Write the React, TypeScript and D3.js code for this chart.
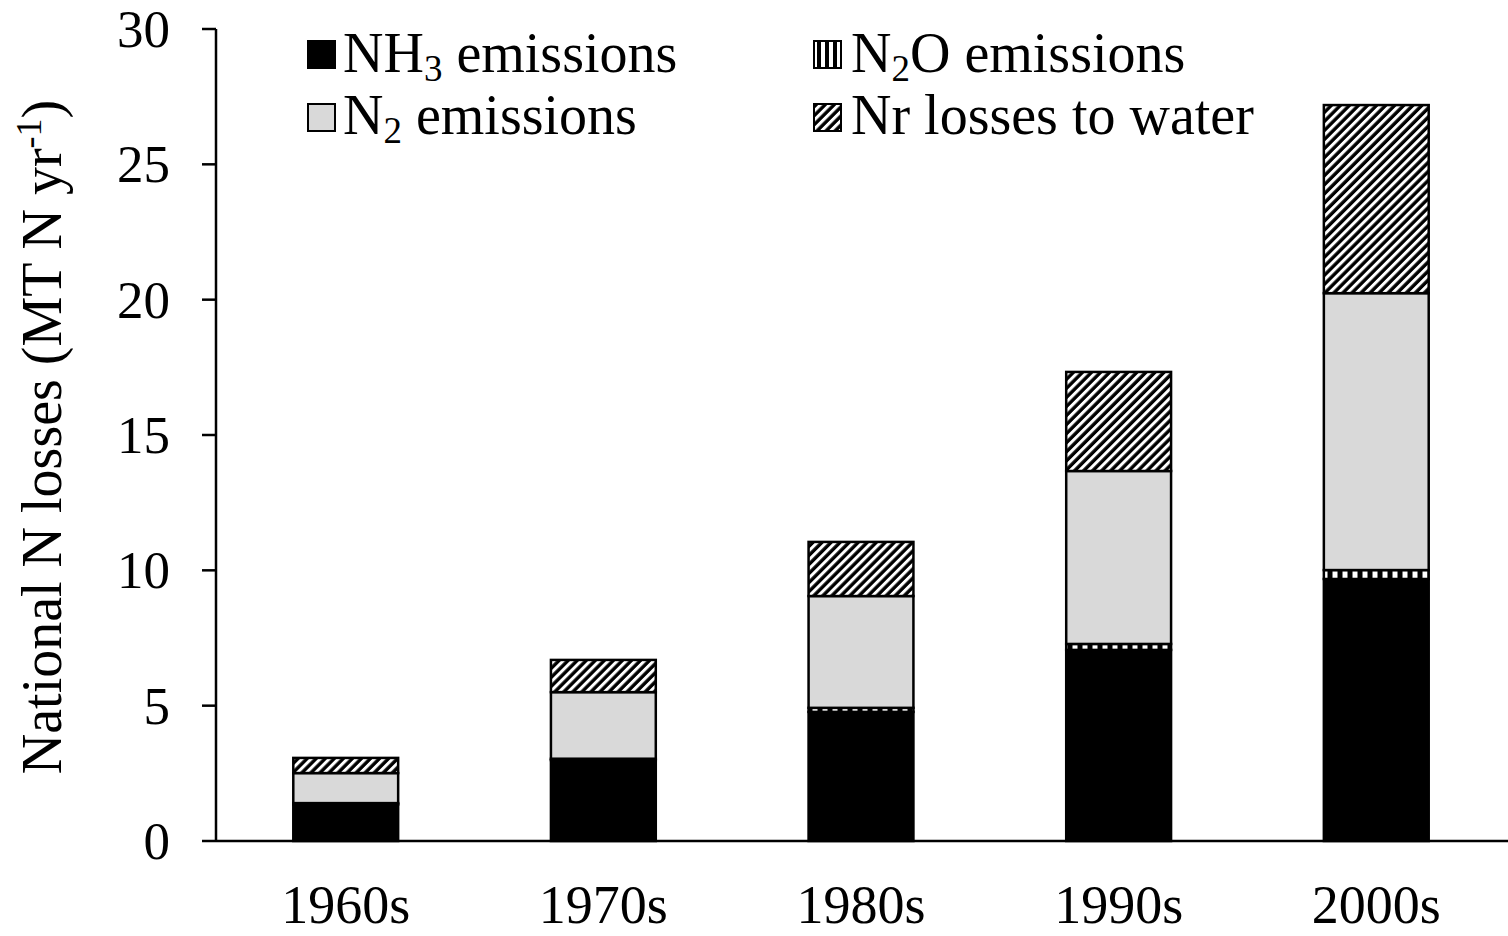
import * as React from 'react';
import * as d3 from 'd3';

const decades = ['1960s', '1970s', '1980s', '1990s', '2000s'];
const nh3 = [1.35, 2.99, 4.77, 7.06, 9.68];
const n2o = [0.05, 0.05, 0.15, 0.22, 0.33];
const n2 = [1.11, 2.46, 4.13, 6.39, 10.23];
const water = [0.56, 1.19, 2.0, 3.66, 6.95];
const yTicks = [0, 5, 10, 15, 20, 25, 30];

const keys = ['nh3', 'n2o', 'n2', 'water'];
const fills: Record<string, string> = {
    nh3: '#000000',
    n2o: 'url(#vstripe)',
    n2: '#d9d9d9',
    water: 'url(#diag)',
};

const W = 1508;
const H = 936;
const font = 'Liberation Serif, Times New Roman, serif';

const App: React.FunctionComponent = () => {
    const rows = decades.map((d, i) => ({ decade: d, nh3: nh3[i], n2o: n2o[i], n2: n2[i], water: water[i] }));
    const stacked = d3.stack<any>().keys(keys)(rows);

    const x = d3.scaleBand().domain(decades).range([216, 1506]).paddingInner(0.593).paddingOuter(0.3);
    const y = d3.scaleLinear().domain([0, 30]).range([841, 29]);

    return (
        <div style={{ position: 'absolute', left: 0, top: 0 }}>
            <svg width={W} height={H} style={{ display: 'block', background: '#fff', fontFamily: font }}>
                <defs>
                    <pattern id="vstripe" width={10} height={10} patternUnits="userSpaceOnUse">
                        <rect width={10} height={10} fill="#000" />
                        <rect x={2.5} width={5} height={10} fill="#fff" />
                    </pattern>
                    <pattern id="diag" width={6.4} height={10} patternUnits="userSpaceOnUse" patternTransform="rotate(45)">
                        <rect width={6.4} height={10} fill="#000" />
                        <rect width={3} height={10} fill="#fff" />
                    </pattern>
                    <pattern id="vstripeL" width={8} height={10} patternUnits="userSpaceOnUse" x={1}>
                        <rect width={8} height={10} fill="#000" />
                        <rect x={4} width={4} height={10} fill="#fff" />
                    </pattern>
                </defs>

                {stacked.map(layer => (
                    <g key={layer.key}>
                        {layer.map((seg, i) => (
                            <rect
                                key={i}
                                x={x(decades[i])}
                                width={x.bandwidth()}
                                y={y(seg[1])}
                                height={y(seg[0]) - y(seg[1])}
                                fill={fills[layer.key]}
                                stroke="#000"
                                strokeWidth={2.5}
                            />
                        ))}
                    </g>
                ))}

                {/* y axis */}
                <line x1={216} x2={216} y1={y(30)} y2={y(0)} stroke="#000" strokeWidth={2.5} />
                {yTicks.map(t => (
                    <g key={t}>
                        <line x1={202} x2={216} y1={y(t)} y2={y(t)} stroke="#000" strokeWidth={2.5} />
                        <text x={170} y={y(t)} dy="0.34em" textAnchor="end" fontSize={53}>{t}</text>
                    </g>
                ))}
                {/* x axis */}
                <line x1={216} x2={1508} y1={y(0)} y2={y(0)} stroke="#000" strokeWidth={2.5} />
                {decades.map(d => (
                    <text key={d} x={(x(d) as number) + x.bandwidth() / 2} y={923} textAnchor="middle" fontSize={54}>{d}</text>
                ))}

                <text transform={`translate(61,437) rotate(-90)`} textAnchor="middle" fontSize={56}>
                    National N losses (MT N yr<tspan fontSize={36} dy={-20}>-1</tspan><tspan dy={20}>)</tspan>
                </text>

                {/* legend */}
                <g fontSize={56}>
                    <rect x={308} y={41} width={27} height={27} fill="#000" stroke="#000" strokeWidth={2} />
                    <text x={343} y={72}>NH<tspan fontSize={37} dy={9}>3</tspan><tspan dy={-9}> emissions</tspan></text>
                    <rect x={308} y={104} width={27} height={27} fill="#d9d9d9" stroke="#000" strokeWidth={2} />
                    <text x={343} y={134}>N<tspan fontSize={37} dy={9}>2</tspan><tspan dy={-9}> emissions</tspan></text>
                    <rect x={814} y={41} width={27} height={27} fill="url(#vstripeL)" stroke="#000" strokeWidth={2} />
                    <text x={851} y={72}>N<tspan fontSize={37} dy={9}>2</tspan><tspan dy={-9}>O emissions</tspan></text>
                    <rect x={814} y={104} width={27} height={27} fill="url(#diag)" stroke="#000" strokeWidth={2} />
                    <text x={851} y={134}>Nr losses to water</text>
                </g>
            </svg>
        </div>
    );
};

export default App;
